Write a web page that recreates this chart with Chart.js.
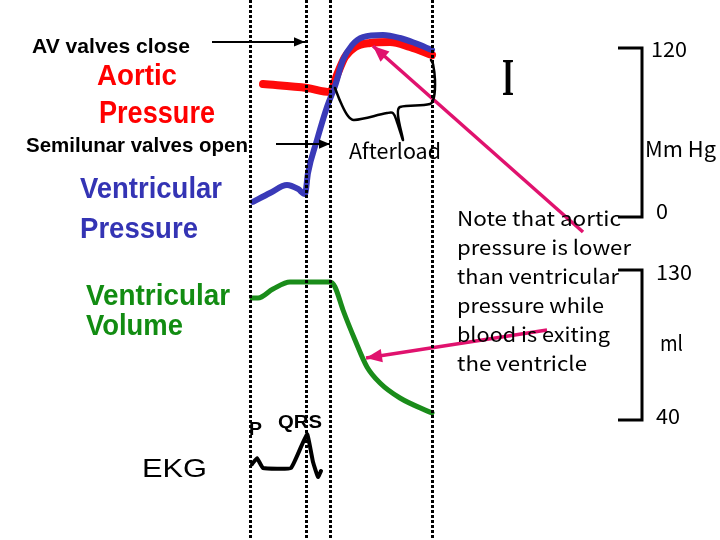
<!DOCTYPE html>
<html>
<head>
<meta charset="utf-8">
<script src="https://cdn.jsdelivr.net/npm/chart.js@4.4.0/dist/chart.umd.min.js"></script>
<style>
  html, body { margin: 0; padding: 0; background: #fff; }
  #wrap { width: 720px; height: 540px; }
</style>
</head>
<body>
<div id="wrap"><canvas id="cycle" width="720" height="540"></canvas></div>
<script>
// time in ms from start of atrial contraction (first dotted line)
const eventTimes = [0, 112, 160, 364];

// ventricular pressure, mmHg
const ventTime = [6, 40, 74, 96, 110, 116, 134, 154, 170, 186, 204, 226, 266, 300, 330, 364];
const ventPressure = [10.7, 17.0, 22.7, 19.9, 16.3, 31.2, 54.7, 78.1, 93.0, 111.5, 122.1, 127.8, 129.2, 127.1, 123.5, 118.6];

// aortic pressure, mmHg
const aortTime = [26, 114, 160, 174, 190, 210, 240, 280, 320, 364];
const aortPressure = [94.4, 91.6, 88.8, 100.8, 113.6, 120.7, 123.6, 124.3, 120.7, 115.0];

// ventricular volume, ml
const volTime = [4, 16, 46, 80, 160, 170, 186, 210, 234, 260, 300, 364];
const volume = [113.2, 113.2, 118.6, 122.8, 122.8, 119.8, 106.0, 88.0, 71.8, 62.2, 53.2, 44.2];

// EKG, mV
const ekgTime = [4, 14, 26, 82, 114, 126, 136, 142];
const ekgMv = [0.13, 0.33, 0, 0, 1.13, 0.2, -0.3, -0.1];

// afterload brace (drawn on the pressure scale)
const braceTime = [170, 182, 196, 208, 274, 286, 294, 306, 296, 300, 360, 368, 370, 366, 362];
const bracePressure = [91.6, 80.9, 71.7, 68.9, 73.8, 73.8, 67.5, 54.7, 72.4, 78.1, 80.2, 85.2, 97.3, 108.6, 111.5];

// arrows: [time, value] from tail to head
const avCloseArrow = [[-76, 124.3], [110, 124.3]];
const slOpenArrow = [[52, 51.8], [160, 51.8]];
const noteToAortic = [[666, -10.7], [246, 121.4]];
const noteToVolume = [[594, 94.0], [232, 77.2]];

// scale brackets
const pressureTicks = [120, 0];
const volumeTicks = [130, 40];

const zip = (xs, ys) => xs.map((x, i) => ({ x: x, y: ys[i] }));
const pairs = arr => arr.map(p => ({ x: p[0], y: p[1] }));

function curve(label, data, axis, color, width, extra) {
  return Object.assign({
    label: label,
    data: data,
    yAxisID: axis,
    borderColor: color,
    backgroundColor: color,
    borderWidth: width,
    pointRadius: 0,
    tension: 0.3,
    fill: false,
    borderCapStyle: 'round',
    borderJoinStyle: 'round'
  }, extra || {});
}

function fitText(ctx, s, x, y, w) {
  const m = ctx.measureText(s).width;
  ctx.save();
  ctx.translate(x, y);
  if (w) ctx.scale(w / m, 1);
  ctx.fillText(s, 0, 0);
  ctx.restore();
}

// dotted event lines, arrow heads, brackets and labels
const decorations = {
  id: 'decorations',
  afterDatasetsDraw(chart) {
    const ctx = chart.ctx;
    const sx = chart.scales.x;
    const sp = chart.scales.pressure;
    const sv = chart.scales.volume;

    ctx.save();
    ctx.strokeStyle = '#000';
    ctx.lineWidth = 3;
    ctx.setLineDash([3, 2]);
    eventTimes.forEach(t => {
      const px = Math.round(sx.getPixelForValue(t)) + 0.5;
      ctx.beginPath();
      ctx.moveTo(px, 0);
      ctx.lineTo(px, 540);
      ctx.stroke();
    });
    ctx.restore();

    chart.data.datasets.forEach((ds, i) => {
      if (!ds.arrowHead) return;
      const pts = chart.getDatasetMeta(i).data;
      const a = pts[pts.length - 2], b = pts[pts.length - 1];
      const ang = Math.atan2(b.y - a.y, b.x - a.x);
      const len = ds.arrowHead, half = ds.arrowHead * 0.42;
      ctx.save();
      ctx.fillStyle = ds.borderColor;
      ctx.translate(b.x, b.y);
      ctx.rotate(ang);
      ctx.beginPath();
      ctx.moveTo(0, 0);
      ctx.lineTo(-len, -half);
      ctx.lineTo(-len, half);
      ctx.closePath();
      ctx.fill();
      ctx.restore();
    });

    // brackets
    ctx.save();
    ctx.strokeStyle = '#000';
    ctx.lineWidth = 3;
    [[sp, pressureTicks], [sv, volumeTicks]].forEach(([sc, ticks]) => {
      const y0 = sc.getPixelForValue(ticks[0]);
      const y1 = sc.getPixelForValue(ticks[1]);
      ctx.beginPath();
      ctx.moveTo(618, y0);
      ctx.lineTo(642, y0);
      ctx.lineTo(642, y1);
      ctx.lineTo(618, y1);
      ctx.stroke();
    });
    ctx.restore();

    ctx.save();
    ctx.textBaseline = 'alphabetic';
    const num = '21px "Noto Sans CJK JP", "DejaVu Sans", sans-serif';
    ctx.fillStyle = '#000';
    ctx.font = num;
    fitText(ctx, String(pressureTicks[0]), 651, sp.getPixelForValue(pressureTicks[0]) + 9, 36);
    fitText(ctx, String(pressureTicks[1]), 656, sp.getPixelForValue(pressureTicks[1]) + 2, 12);
    fitText(ctx, 'Mm Hg', 645, 157, 71);
    fitText(ctx, String(volumeTicks[0]), 656, sv.getPixelForValue(volumeTicks[0]) + 10, 36);
    fitText(ctx, 'ml', 660, 351, 23);
    fitText(ctx, String(volumeTicks[1]), 656, sv.getPixelForValue(volumeTicks[1]) + 4, 24);

    const heavy = sz => 'bold ' + sz + 'px "Liberation Sans", Arial, sans-serif';
    const labels = [
      ['AV valves close', 32, 53, 158, heavy(21), '#000'],
      ['Aortic', 97, 85, 80, heavy(30), '#ff0000'],
      ['Pressure', 99, 123, 116, heavy(31), '#ff0000'],
      ['Semilunar valves open', 26, 152, 222, heavy(21), '#000'],
      ['Ventricular', 80, 198, 142, heavy(29), '#3434b4'],
      ['Pressure', 80, 238, 118, heavy(29), '#3434b4'],
      ['Ventricular', 86, 305, 144, heavy(29), '#128c12'],
      ['Volume', 86, 335, 97, heavy(29), '#128c12'],
      ['P', 249, 435, 13, heavy(18), '#000'],
      ['QRS', 278, 428, 44, heavy(18), '#000'],
      ['EKG', 142, 477, 65, '26px "Liberation Sans", Arial, sans-serif', '#000'],
      ['Afterload', 349, 159, 92, num, '#000']
    ];
    labels.forEach(([s, x, y, w, f, c]) => {
      ctx.font = f;
      ctx.fillStyle = c;
      fitText(ctx, s, x, y, w);
    });

    const note = [
      ['Note that aortic', 164],
      ['pressure is lower', 174],
      ['than ventricular', 162],
      ['pressure while', 147],
      ['blood is exiting', 153],
      ['the ventricle', 130]
    ];
    ctx.font = '20px "Noto Sans CJK JP", "DejaVu Sans", sans-serif';
    ctx.fillStyle = '#000';
    note.forEach(([s, w], i) => fitText(ctx, s, 457, 226 + i * 29, w));

    ctx.font = 'bold 52px "Liberation Serif", serif';
    fitText(ctx, 'I', 502, 95, 12);
    ctx.restore();
  }
};

new Chart(document.getElementById('cycle'), {
  type: 'line',
  data: {
    datasets: [
      curve('Ventricular Pressure', zip(ventTime, ventPressure), 'pressure', '#3a3ab8', 6, { order: 1, cubicInterpolationMode: 'monotone' }),
      curve('Aortic Pressure', zip(aortTime, aortPressure), 'pressure', '#ff0a0a', 8, { order: 2, cubicInterpolationMode: 'monotone' }),
      curve('Ventricular Volume', zip(volTime, volume), 'volume', '#1a8c1a', 5, { cubicInterpolationMode: 'monotone' }),
      curve('EKG', zip(ekgTime, ekgMv), 'ekg', '#000', 4, { tension: 0.1 }),
      curve('Afterload', zip(braceTime, bracePressure), 'pressure', '#000', 2.5, { tension: 0.35 }),
      curve('AV valves close', pairs(avCloseArrow), 'pressure', '#000', 2, { tension: 0, borderCapStyle: 'butt', arrowHead: 11 }),
      curve('Semilunar valves open', pairs(slOpenArrow), 'pressure', '#000', 2, { tension: 0, borderCapStyle: 'butt', arrowHead: 11 }),
      curve('note aortic', pairs(noteToAortic), 'pressure', '#e0126e', 3.5, { tension: 0, borderCapStyle: 'butt', arrowHead: 16 }),
      curve('note volume', pairs(noteToVolume), 'volume', '#e0126e', 3.5, { tension: 0, borderCapStyle: 'butt', arrowHead: 16 })
    ]
  },
  options: {
    responsive: false,
    animation: false,
    events: [],
    layout: { padding: 0 },
    plugins: { legend: { display: false }, tooltip: { enabled: false } },
    scales: {
      x: { type: 'linear', min: -500, max: 940, display: false },
      pressure: { type: 'linear', position: 'left', min: -229.4, max: 154.1, display: false },
      volume: { type: 'linear', position: 'left', min: -32, max: 292, display: false },
      ekg: { type: 'linear', position: 'left', min: -2.4, max: 15.6, display: false }
    }
  },
  plugins: [decorations]
});
</script>
</body>
</html>
